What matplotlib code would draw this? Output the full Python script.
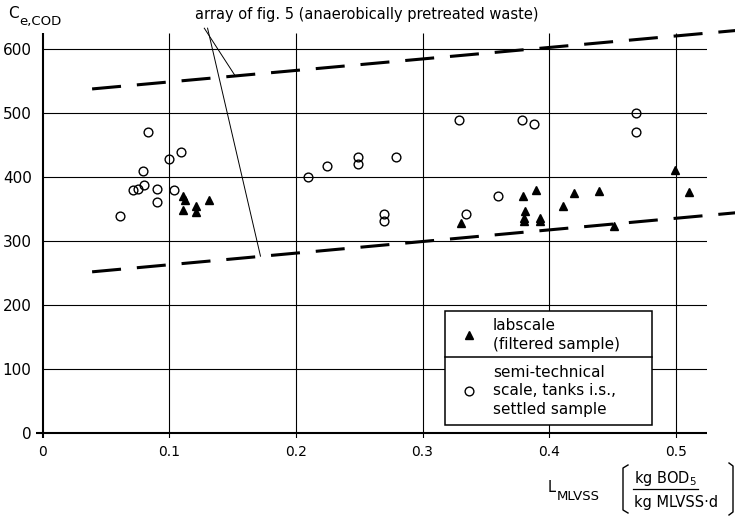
import matplotlib
matplotlib.use("Agg")
import matplotlib.pyplot as plt
from matplotlib.lines import Line2D
from matplotlib.patches import Rectangle

plt.rcParams['font.family'] = ['DejaVu Sans']
plt.rcParams['mathtext.fontset'] = 'dejavusans'

# labscale (filtered sample)
lab_x = [0.111, 0.112, 0.111, 0.121, 0.121, 0.1315, 0.330, 0.379, 0.3895, 0.3806,
         0.380, 0.380, 0.393, 0.393, 0.4106, 0.4198, 0.4393, 0.451, 0.4996, 0.5107]
lab_y = [371, 364, 349, 355, 345, 364, 328, 370, 380, 347,
         336, 331, 336, 331, 355, 375, 378, 324, 411, 377]

# semi-technical scale, tanks i.s., settled sample
semi_x = [0.083, 0.109, 0.100, 0.0795, 0.080, 0.0755, 0.071, 0.090, 0.1035, 0.090, 0.061,
          0.2097, 0.2245, 0.249, 0.249, 0.2787, 0.2695, 0.2698, 0.3287, 0.334,
          0.3785, 0.388, 0.4685, 0.4685, 0.3595]
semi_y = [470, 439, 429, 410, 388, 381, 380, 381, 380, 361, 339,
          400, 418, 431, 420, 431, 342, 331, 490, 343,
          490, 483, 500, 470, 371]

# array of fig. 5 (anaerobically pretreated waste), upper and lower limit
upper_x = [0.039, 0.551]
upper_y = [538, 630]
lower_x = [0.039, 0.551]
lower_y = [252, 345]

x_ticks = [0, 0.1, 0.2, 0.3, 0.4, 0.5]
x_labels = ['0', '0.1', '0.2', '0.3', '0.4', '0.5']
y_ticks = [0, 100, 200, 300, 400, 500, 600]
y_labels = ['0', '100', '200', '300', '400', '500', '600']

W, H = 735, 516
fig = plt.figure(figsize=(W / 100, H / 100), dpi=100)
ax = fig.add_axes([36.4 / W, (H - 438.1) / H, (707.4 - 36.4) / W, (438.1 - 33.3) / H])
xmin, xmax, ymin, ymax = -0.005, 0.525, -8, 625
ax.set_xlim(xmin, xmax)
ax.set_ylim(ymin, ymax)
for s in ax.spines.values():
    s.set_visible(False)

# grid drawn by hand so it starts at the axes like the original
ax.vlines(x_ticks[1:], ymin, ymax, color='black', lw=0.8, zorder=1)
ax.hlines(y_ticks[1:], 0, xmax, color='black', lw=0.8, zorder=1)
ax.hlines(0, xmin, xmax, color='black', lw=1.5, zorder=1)
ax.vlines(0, ymin, ymax, color='black', lw=1.5, zorder=1)

ax.set_xticks(x_ticks, x_labels)
ax.set_yticks(y_ticks, y_labels)
ax.tick_params(axis='x', length=0, pad=5, labelsize=10)
ax.tick_params(axis='y', length=0, pad=3.4, labelsize=11)

ax.plot(semi_x, semi_y, 'o', ms=6.3, mfc='none', mec='black', mew=1.0, zorder=3)
ax.plot(lab_x, lab_y, '^', ms=6, color='black', zorder=3)

ax.plot(upper_x, upper_y, color='black', lw=2.2, dashes=(9.5, 5.2), clip_on=False, zorder=2)
ax.plot(lower_x, lower_y, color='black', lw=2.2, dashes=(9.5, 5.2), clip_on=False, zorder=2)

# pointers from the caption to both lines
ax.plot([0.1276, 0.152], [633, 558.5], color='black', lw=0.7, clip_on=False)
ax.plot([0.1302, 0.172], [633, 276.5], color='black', lw=0.7, clip_on=False)
fig.text(195 / W, 1 - 14 / H, 'array of fig. 5 (anaerobically pretreated waste)',
         ha='left', va='center', fontsize=10.5)

# legend box
ax.add_patch(Rectangle((0.3178, 12.5), 0.481 - 0.3178, 191.2 - 12.5, facecolor='white',
                       edgecolor='black', lw=1.1, zorder=4))
ax.plot([0.3178, 0.481], [118.4, 118.4], color='black', lw=1.1, zorder=5)
ax.plot([0.3367], [153.2], '^', ms=6, color='black', zorder=5)
ax.plot([0.3367], [66.1], 'o', ms=6.3, mfc='none', mec='black', mew=1.0, zorder=5)
for txt, yy in [('labscale', 167.3), ('(filtered sample)', 138.7),
                ('semi-technical', 94.3), ('scale, tanks i.s.,', 66.1),
                ('settled sample', 37.1)]:
    ax.text(0.3557, yy, txt, ha='left', va='center', fontsize=11, zorder=6)

# y axis title
fig.text(8 / W, 1 - 14 / H, 'C', ha='left', va='center', fontsize=11)
fig.text(19 / W, 1 - 21 / H, 'e,COD', ha='left', va='center', fontsize=9.5)

# x axis title with unit fraction
fig.text(548 / W, 1 - 487 / H, 'L', ha='left', va='center', fontsize=10.5)
fig.text(557 / W, 1 - 497 / H, 'MLVSS', ha='left', va='center', fontsize=9.5)
fig.text(634 / W, 1 - 478 / H, r'kg BOD$_5$', ha='left', va='center', fontsize=10.5)
fig.text(634 / W, 1 - 503 / H, 'kg MLVSS·d', ha='left', va='center', fontsize=10.5)
fig.add_artist(Line2D([633 / W, 698 / W], [1 - 489 / H, 1 - 489 / H], color='black', lw=0.9))
fig.add_artist(Line2D([628 / W, 623 / W, 623 / W, 628 / W],
                      [1 - 465 / H, 1 - 468 / H, 1 - 510 / H, 1 - 513 / H], color='black', lw=1.0))
fig.add_artist(Line2D([729 / W, 733 / W, 733 / W, 729 / W],
                      [1 - 463 / H, 1 - 466 / H, 1 - 512 / H, 1 - 515 / H], color='black', lw=1.0))

fig.savefig('out.png', dpi=100)
